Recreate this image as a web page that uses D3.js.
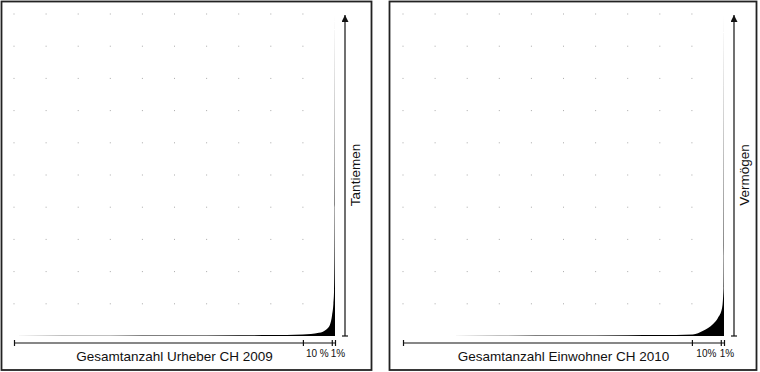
<!DOCTYPE html>
<html>
<head>
<meta charset="utf-8">
<script src="https://cdn.jsdelivr.net/npm/d3@7"></script>
<style>
  body { margin: 0; background: #fff; }
  text { font-family: "Liberation Sans", Arial, sans-serif; fill: #111; }
</style>
</head>
<body>
<div id="chart"></div>
<script>
// share of population (sorted ascending) -> relative amount
const tantiemenShare = [0, 0.3, 0.5, 0.7, 0.8, 0.9, 0.95, 0.975, 0.984, 0.991, 0.995, 0.997, 0.999, 1];
const tantiemenValue = [0, 0.0008, 0.0012, 0.002, 0.003, 0.005, 0.01, 0.022, 0.034, 0.065, 0.1, 0.14, 0.4, 1];

const vermoegenShare = [0, 0.3, 0.5, 0.7, 0.8, 0.903, 0.935, 0.966, 0.981, 0.994, 0.9985, 1];
const vermoegenValue = [0, 0.0008, 0.0015, 0.0025, 0.003, 0.005, 0.016, 0.037, 0.056, 0.087, 0.15, 1];

const tickValues = [0, 0.9, 0.99, 1];
const tantiemenTickLabels = ["10 %", "1%"];
const vermoegenTickLabels = ["10%", "1%"];

const xTitles = ["Gesamtanzahl Urheber CH 2009", "Gesamtanzahl Einwohner CH 2010"];
const yTitles = ["Tantiemen", "Vermögen"];

const svg = d3.select("#chart")
  .append("svg")
    .attr("width", 760)
    .attr("height", 372);

svg.append("defs").append("marker")
    .attr("id", "arrow")
    .attr("viewBox", "0 0 10 10")
    .attr("refX", 10).attr("refY", 5)
    .attr("markerWidth", 7).attr("markerHeight", 7)
    .attr("markerUnits", "userSpaceOnUse")
    .attr("orient", "auto")
  .append("path")
    .attr("d", "M0,0 L10,5 L0,10 z")
    .attr("fill", "#111");

const panels = [
  { box: [1.5, 1.5, 370, 368.5], left: 14, top: 14, share: tantiemenShare, value: tantiemenValue,
    labels: tantiemenTickLabels, xTitle: xTitles[0], yTitle: yTitles[0] },
  { box: [389.5, 1.5, 367, 368.5], left: 403, top: 14, share: vermoegenShare, value: vermoegenValue,
    labels: vermoegenTickLabels, xTitle: xTitles[1], yTitle: yTitles[1] }
];

const width = 321, height = 322;

panels.forEach(p => {
  svg.append("rect")
    .attr("x", p.box[0]).attr("y", p.box[1])
    .attr("width", p.box[2]).attr("height", p.box[3])
    .attr("fill", "none")
    .attr("stroke", "#222")
    .attr("stroke-width", 1.8);

  const g = svg.append("g")
    .attr("transform", `translate(${p.left},${p.top})`);

  const x = d3.scaleLinear().domain([0, 1]).range([0, width]);
  const y = d3.scaleLinear().domain([0, 1]).range([height, 0]);

  // dotted grid
  const grid = d3.range(10);
  grid.forEach(i => {
    grid.forEach(j => {
      g.append("rect")
        .attr("x", x(i / 10) - 0.5)
        .attr("y", y(1 - j / 10) - 0.5)
        .attr("width", 1).attr("height", 1)
        .attr("fill", "#aaa");
    });
  });

  const data = p.share.map((s, i) => ({ s: s, v: p.value[i] }));

  const area = d3.area()
    .x(d => x(d.s))
    .y0(height)
    .y1(d => y(d.v))
    .curve(d3.curveMonotoneX);

  g.append("path")
    .datum(data)
    .attr("fill", "#000")
    .attr("d", area);

  // y arrow
  g.append("line")
    .attr("x1", width + 10).attr("x2", width + 10)
    .attr("y1", height).attr("y2", 1)
    .attr("stroke", "#111")
    .attr("stroke-width", 1.2)
    .attr("marker-end", "url(#arrow)");
  g.append("line")
    .attr("x1", width + 7).attr("x2", width + 13)
    .attr("y1", height).attr("y2", height)
    .attr("stroke", "#111")
    .attr("stroke-width", 1.2);

  g.append("text")
    .attr("transform", `translate(${width + 25},${height / 2}) rotate(-90)`)
    .attr("text-anchor", "middle")
    .style("font-size", "13.5px")
    .text(p.yTitle);

  // x axis
  const axis = g.append("g")
    .attr("transform", `translate(0,${height + 7})`)
    .call(d3.axisBottom(x).tickValues(tickValues).tickSize(3).tickSizeOuter(0).tickFormat(""));
  axis.select(".domain").attr("stroke", "#111").attr("stroke-width", 1.2).attr("d", `M0,0H${width}`);
  axis.selectAll(".tick line")
    .attr("y1", -3).attr("y2", 3)
    .attr("stroke", "#111").attr("stroke-width", 1.2);

  g.append("text")
    .attr("x", (x(tickValues[1]) + x(tickValues[2])) / 2)
    .attr("y", height + 21)
    .attr("text-anchor", "middle")
    .style("font-size", "10px")
    .text(p.labels[0]);
  g.append("text")
    .attr("x", x(1) + 3)
    .attr("y", height + 21)
    .attr("text-anchor", "middle")
    .style("font-size", "10px")
    .text(p.labels[1]);

  g.append("text")
    .attr("x", width / 2)
    .attr("y", height + 25)
    .attr("text-anchor", "middle")
    .style("font-size", "13.5px")
    .text(p.xTitle);
});
</script>
</body>
</html>
